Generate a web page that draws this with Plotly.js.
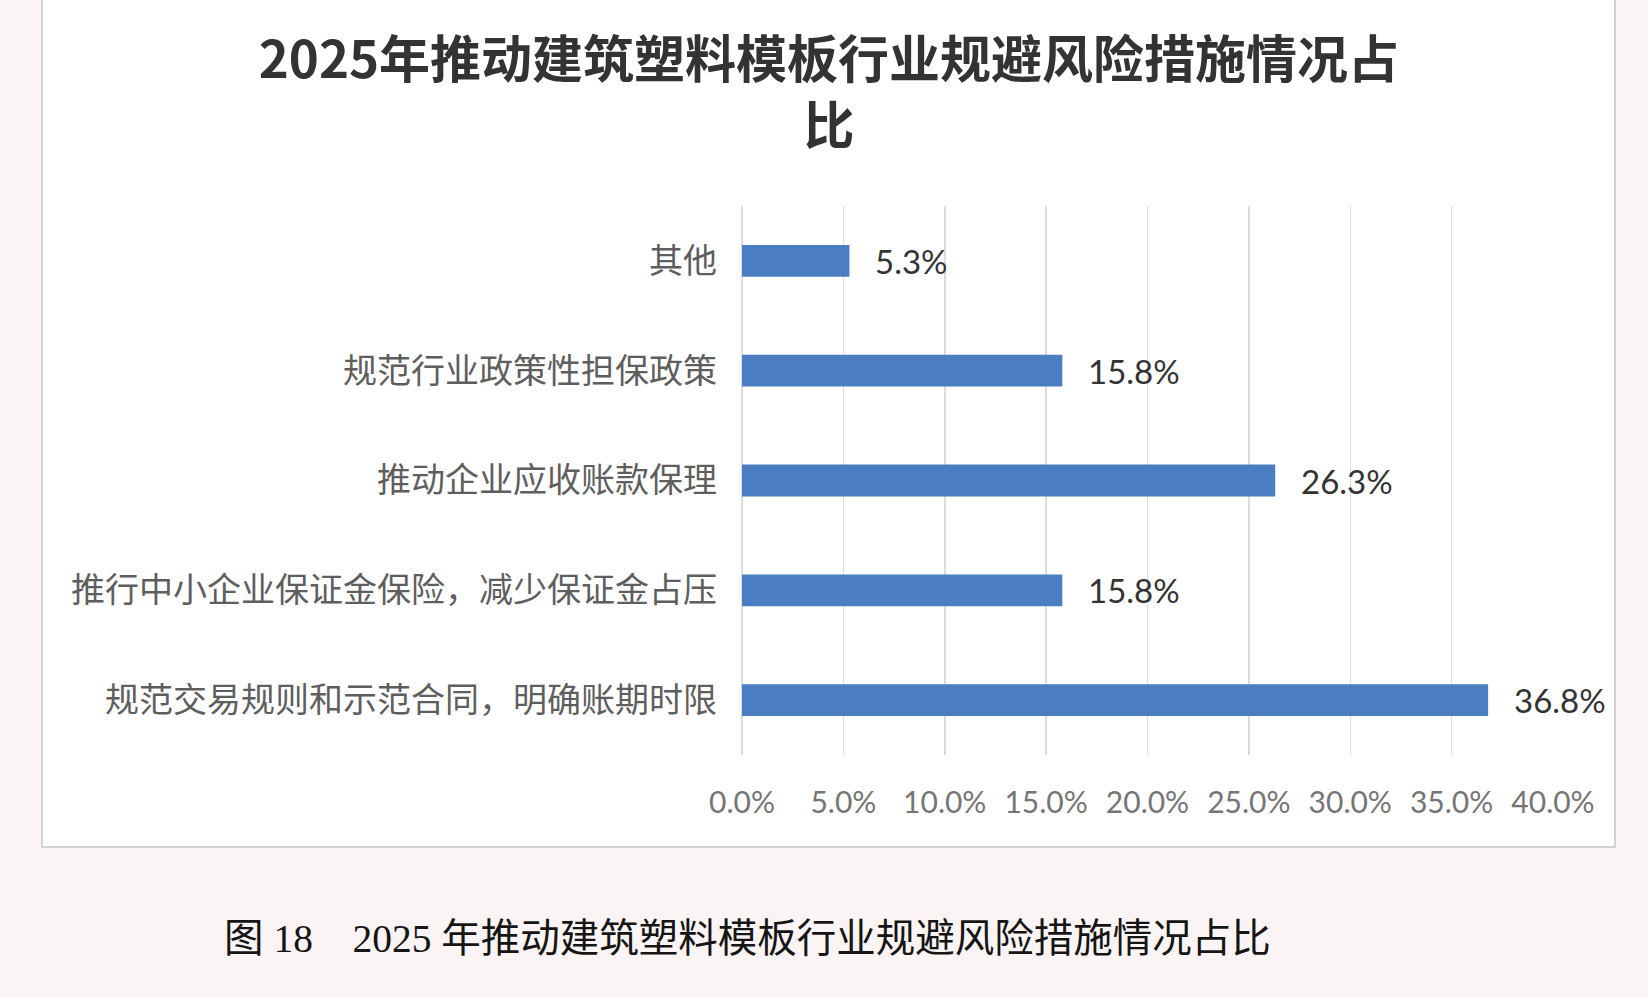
<!DOCTYPE html>
<html>
<head>
<meta charset="utf-8">
<script src="https://cdn.plot.ly/plotly-3.0.1.min.js"></script>
<style>
  html, body { margin: 0; padding: 0; background: #faf4f4; }
  #chart { width: 1648px; height: 997px; }
</style>
</head>
<body>
<div id="chart"></div>
<script>
// ---- data ----
const categories = [
  "规范交易规则和示范合同，明确账期时限",
  "推行中小企业保证金保险，减少保证金占压",
  "推动企业应收账款保理",
  "规范行业政策性担保政策",
  "其他"
];
const shares = [36.8, 15.8, 26.3, 15.8, 5.3];
const xTickValues = [0, 5, 10, 15, 20, 25, 30, 35, 40];
const xTickLabels = ["0.0%", "5.0%", "10.0%", "15.0%", "20.0%", "25.0%", "30.0%", "35.0%", "40.0%"];
const titleText = "2025年推动建筑塑料模板行业规避风险措施情况占<br>比";
const captionText = "图\u00a018\u00a0\u00a0\u00a0\u00a02025\u00a0年推动建筑塑料模板行业规避风险措施情况占比";

// ---- layout geometry ----
const W = 1648, H = 997;
const M = { l: 742, r: 95, t: 206, b: 242 };
const plotW = W - M.l - M.r, plotH = H - M.t - M.b;
const px2x = px => (px - M.l) / plotW;
const py2y = py => (H - M.b - py) / plotH;

const labelAnnotations = categories.map((c, i) => ({
  x: shares[i], y: c, xref: 'x', yref: 'y',
  text: shares[i].toFixed(1) + '%',
  showarrow: false, xanchor: 'left', yanchor: 'middle', xshift: 24,
  font: { family: 'Lato, "Noto Sans", sans-serif', size: 33, color: '#333333' }
}));

const trace = {
  type: 'bar', orientation: 'h',
  x: shares, y: categories,
  marker: { color: '#4A7EC0' },
  hoverinfo: 'x+y'
};

const layout = {
  width: W, height: H,
  margin: M,
  paper_bgcolor: '#faf4f4',
  plot_bgcolor: 'rgba(0,0,0,0)',
  showlegend: false,
  bargap: 0.71,
  title: {
    text: titleText,
    x: 0.503, xref: 'container', xanchor: 'center',
    y: 1 - 78 / H, yref: 'container', yanchor: 'top',
    font: { family: '"Noto Sans CJK SC", sans-serif', size: 51, color: '#333333', weight: 'bold' }
  },
  xaxis: {
    range: [0, 40],
    tickvals: xTickValues,
    ticktext: xTickLabels,
    showgrid: true, gridcolor: '#dcdcdc', gridwidth: 1.5,
    zeroline: true, zerolinecolor: '#dcdcdc', zerolinewidth: 1.5,
    showline: false, ticks: '',
    ticklabelstandoff: 27,
    tickfont: { family: 'Lato, "Noto Sans", sans-serif', size: 30, color: '#757575' },
    fixedrange: true
  },
  yaxis: {
    type: 'category',
    showgrid: false, zeroline: false, showline: false, ticks: '',
    ticklabelstandoff: 24,
    tickfont: { family: '"Noto Sans CJK SC", sans-serif', size: 34, color: '#5e5e5e' },
    fixedrange: true
  },
  shapes: [{
    type: 'rect', xref: 'paper', yref: 'paper', layer: 'below',
    x0: px2x(42), x1: px2x(1615), y0: py2y(847), y1: py2y(-4),
    fillcolor: '#ffffff', line: { color: '#d2d2d2', width: 2 }
  }],
  annotations: labelAnnotations.concat([{
    xref: 'paper', yref: 'paper', x: px2x(222), y: py2y(939),
    xanchor: 'left', yanchor: 'middle', showarrow: false,
    text: captionText,
    font: { family: '"Liberation Serif", "Noto Sans CJK SC", serif', size: 39.5, color: '#151515' }
  }])
};

Plotly.newPlot('chart', [trace], layout, { displayModeBar: false, staticPlot: true });
</script>
</body>
</html>
